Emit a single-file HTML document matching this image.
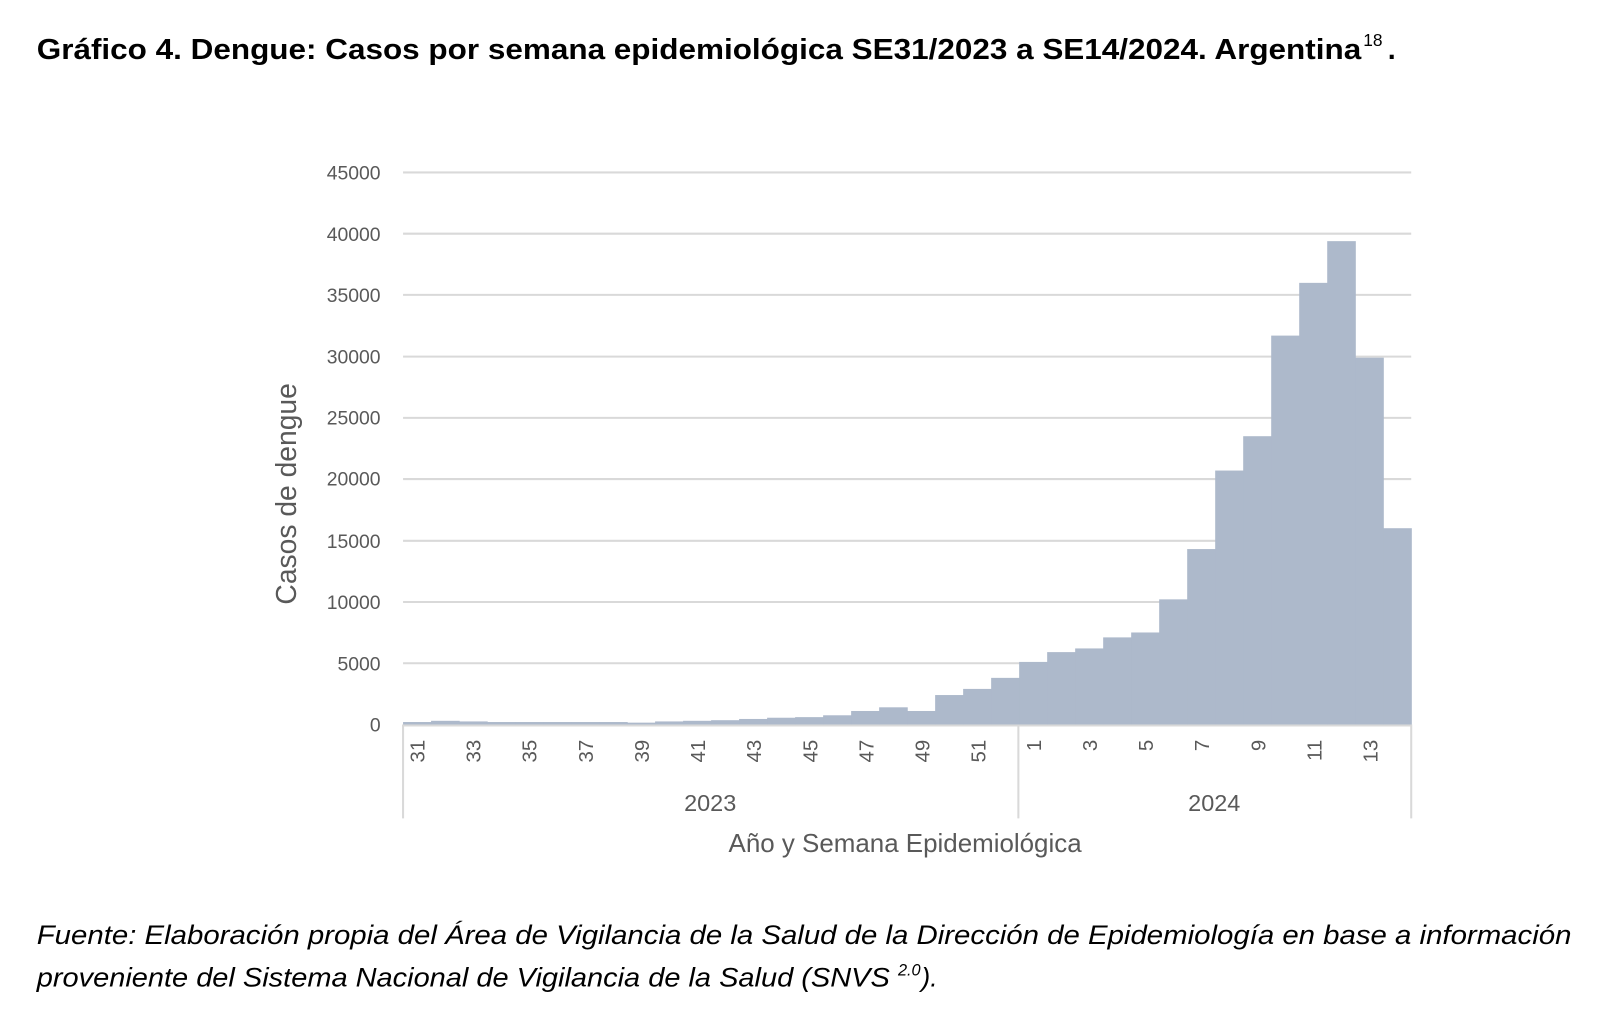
<!DOCTYPE html>
<html><head><meta charset="utf-8"><style>
body{margin:0;background:#fff;width:1600px;height:1015px;overflow:hidden;font-family:"Liberation Sans",sans-serif}
svg text{font-family:"Liberation Sans",sans-serif}
</style></head><body>
<svg width="1600" height="1015" xmlns="http://www.w3.org/2000/svg">
<g transform="scale(1.0204)">
<text x="36" y="58" font-size="28" font-weight="bold" fill="#000" textLength="1298" lengthAdjust="spacingAndGlyphs">Gráfico 4. Dengue: Casos por semana epidemiológica SE31/2023 a SE14/2024. Argentina</text>
<text x="1336" y="45" font-size="17" fill="#000">18</text>
<text x="1360" y="58" font-size="28" font-weight="bold" fill="#000">.</text>
<g stroke="#d9d9d9" stroke-width="2">
<line x1="395" x2="1383" y1="169" y2="169"/><line x1="395" x2="1383" y1="229" y2="229"/><line x1="395" x2="1383" y1="289" y2="289"/><line x1="395" x2="1383" y1="349.5" y2="349.5"/><line x1="395" x2="1383" y1="409.5" y2="409.5"/><line x1="395" x2="1383" y1="469.5" y2="469.5"/><line x1="395" x2="1383" y1="530" y2="530"/><line x1="395" x2="1383" y1="590" y2="590"/><line x1="395" x2="1383" y1="650" y2="650"/>
</g>
<g id="bars" fill="#adb9cb"></g>
<g stroke="#d9d9d9" stroke-width="2">
<line x1="395" x2="1383" y1="711" y2="711"/>
<line x1="395" x2="395" y1="710" y2="802"/><line x1="998" x2="998" y1="710" y2="802"/><line x1="1383" x2="1383" y1="710" y2="802"/>
</g>
<g font-size="19" fill="#595959" text-anchor="end">
<text x="373" y="176">45000</text><text x="373" y="236">40000</text><text x="373" y="296">35000</text><text x="373" y="356">30000</text><text x="373" y="416">25000</text><text x="373" y="476">20000</text><text x="373" y="537">15000</text><text x="373" y="597">10000</text><text x="373" y="657">5000</text><text x="373" y="717">0</text>
</g>
<g font-size="20" fill="#595959" text-anchor="end">
<text transform="translate(416,725) rotate(-90)">31</text>
<text transform="translate(471,725) rotate(-90)">33</text>
<text transform="translate(526,725) rotate(-90)">35</text>
<text transform="translate(581,725) rotate(-90)">37</text>
<text transform="translate(636,725) rotate(-90)">39</text>
<text transform="translate(691,725) rotate(-90)">41</text>
<text transform="translate(746,725) rotate(-90)">43</text>
<text transform="translate(801,725) rotate(-90)">45</text>
<text transform="translate(856,725) rotate(-90)">47</text>
<text transform="translate(911,725) rotate(-90)">49</text>
<text transform="translate(966,725) rotate(-90)">51</text>
<text transform="translate(1020,725) rotate(-90)">1</text>
<text transform="translate(1075,725) rotate(-90)">3</text>
<text transform="translate(1130,725) rotate(-90)">5</text>
<text transform="translate(1185,725) rotate(-90)">7</text>
<text transform="translate(1240,725) rotate(-90)">9</text>
<text transform="translate(1295,725) rotate(-90)">11</text>
<text transform="translate(1350,725) rotate(-90)">13</text>
</g>
<g font-size="23" fill="#595959" text-anchor="middle">
<text x="696" y="795">2023</text><text x="1190" y="795">2024</text>
<text x="887" y="835" font-size="25" textLength="346" lengthAdjust="spacingAndGlyphs">Año y Semana Epidemiológica</text>
<text transform="translate(290,484) rotate(-90)" font-size="28" textLength="217" lengthAdjust="spacingAndGlyphs">Casos de dengue</text>
</g>
<g font-size="26" font-style="italic" fill="#000">
<text x="36" y="925" textLength="1504" lengthAdjust="spacingAndGlyphs">Fuente: Elaboración propia del Área de Vigilancia de la Salud de la Dirección de Epidemiología en base a información</text>
<text x="36" y="967" textLength="836" lengthAdjust="spacingAndGlyphs">proveniente del Sistema Nacional de Vigilancia de la Salud (SNVS</text>
<text x="880" y="956" font-size="16">2.0</text>
<text x="903" y="967">).</text>
</g>
</g>
</svg>
<script>
var v=[200,300,250,200,200,200,200,200,150,250,300,350,450,550,600,750,1100,1400,1100,2400,2900,3800,5100,5900,6200,7100,7500,10200,14300,20700,23500,31700,36000,39400,29900,16000];
var g=document.getElementById('bars'),w=988/36,s='';
for(var i=0;i<v.length;i++){var h=v[i]*541/45000;s+='<rect x="'+(395+i*w)+'" y="'+(710-h)+'" width="'+(w+0.6)+'" height="'+h+'"/>';}
g.innerHTML=s;
</script>
</body></html>
